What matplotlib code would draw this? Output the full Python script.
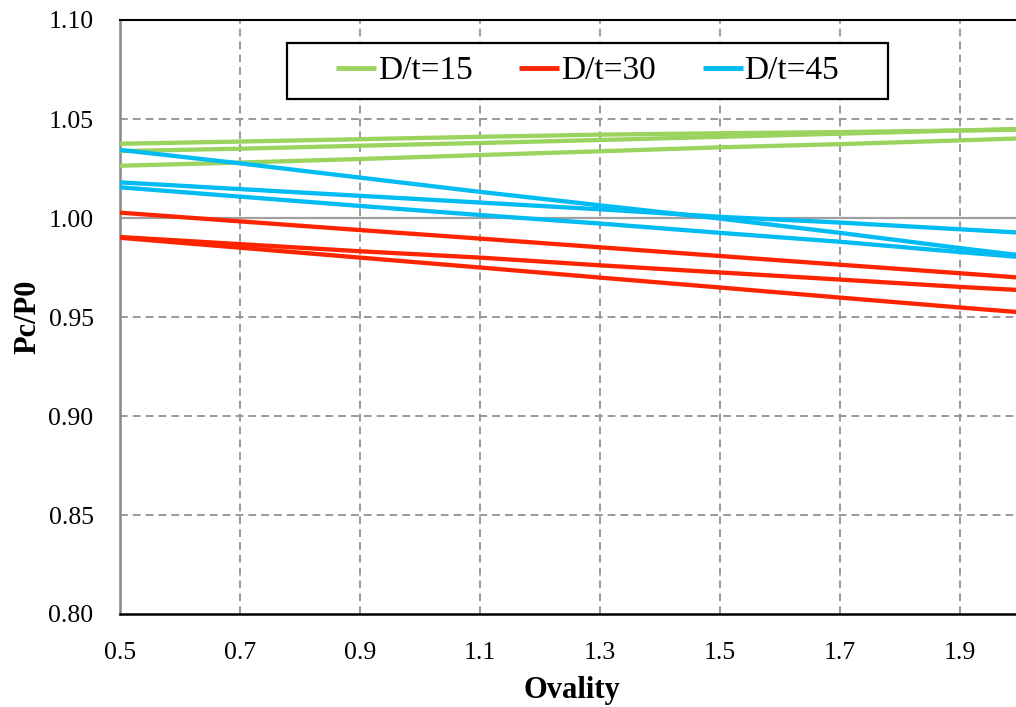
import matplotlib.pyplot as plt
from matplotlib.patches import Rectangle

# Ovality values (x) and Pc/P0 curves
ovality = [0.5, 0.7, 0.9, 1.1, 1.3, 1.5, 1.7, 1.9, 2.0]

dt15_a = [1.0375, 1.0386, 1.0398, 1.0410, 1.0421, 1.0428, 1.0434, 1.0442, 1.0446]
dt15_b = [1.0338, 1.0350, 1.0365, 1.0379, 1.0394, 1.0410, 1.0426, 1.0442, 1.0450]
dt15_c = [1.0264, 1.0280, 1.0298, 1.0318, 1.0337, 1.0357, 1.0373, 1.0392, 1.0402]

dt30_a = [1.0027, 0.9983, 0.9939, 0.9896, 0.9852, 0.9808, 0.9764, 0.9721, 0.9699]
dt30_b = [0.9904, 0.9868, 0.9832, 0.9800, 0.9761, 0.9725, 0.9689, 0.9652, 0.9636]
dt30_c = [0.9900, 0.9850, 0.9800, 0.9750, 0.9699, 0.9649, 0.9598, 0.9548, 0.9524]

dt45_a = [1.0344, 1.0276, 1.0204, 1.0132, 1.0064, 0.9997, 0.9925, 0.9848, 0.9812]
dt45_b = [1.0180, 1.0146, 1.0112, 1.0078, 1.0044, 1.0006, 0.9977, 0.9943, 0.9926]
dt45_c = [1.0155, 1.0108, 1.0061, 1.0015, 0.9972, 0.9925, 0.9880, 0.9828, 0.9803]

groups = [
    ('D/t=15', '#9BD35F', [dt15_a, dt15_b, dt15_c]),
    ('D/t=30', '#FF2400', [dt30_a, dt30_b, dt30_c]),
    ('D/t=45', '#00BCF2', [dt45_a, dt45_b, dt45_c]),
]

x_ticks = [0.5, 0.7, 0.9, 1.1, 1.3, 1.5, 1.7, 1.9]
y_ticks = [0.80, 0.85, 0.90, 0.95, 1.00, 1.05, 1.10]

SERIF = 'Liberation Serif'


def main():
    fig = plt.figure(figsize=(10.16, 7.07), dpi=100)
    ax = fig.add_axes([120 / 1016, 1 - 614 / 707, 900 / 1016, 594 / 707])

    for label, color, curves in groups:
        for i, y in enumerate(curves):
            ax.plot(ovality, y, color=color, lw=3.1, solid_capstyle='butt',
                    label=label if i == 0 else None, zorder=3)

    ax.set_xlim(0.5, 2.0)
    ax.set_ylim(0.80, 1.10)
    ax.set_xticks(x_ticks)
    ax.set_yticks(y_ticks)
    ax.set_xticklabels([f'{v:.1f}' for v in x_ticks], family=SERIF, fontsize=18.5)
    ax.set_yticklabels([f'{v:.2f}' for v in y_ticks], family=SERIF, fontsize=18.5)
    ax.tick_params(axis='x', length=0, pad=20)
    ax.tick_params(axis='y', length=0, pad=19)

    # grid: dashed gray, with a solid line at 1.00
    dash = (0, (4, 2.6))
    for xv in x_ticks[1:]:
        ax.axvline(xv, color='#999999', lw=1.4, ls=dash, zorder=1)
    for yv in y_ticks[1:-1]:
        if abs(yv - 1.0) < 1e-9:
            ax.axhline(yv, color='#A0A0A0', lw=1.6, zorder=1)
        else:
            ax.axhline(yv, color='#999999', lw=1.4, ls=dash, zorder=1)

    ax.spines['right'].set_visible(False)
    ax.spines['top'].set_color('black')
    ax.spines['top'].set_linewidth(1.5)
    ax.spines['bottom'].set_color('black')
    ax.spines['bottom'].set_linewidth(1.8)
    ax.spines['left'].set_color('#888888')
    ax.spines['left'].set_linewidth(1.8)

    ax.set_xlabel('Ovality', family=SERIF, fontweight='bold', fontsize=22, va='center')
    ax.set_ylabel('Pc/P0', family=SERIF, fontweight='bold', fontsize=22, va='center')
    ax.xaxis.set_label_coords(0.502, -0.128)
    ax.yaxis.set_label_coords(-0.102, 0.5)

    # legend box
    box = Rectangle((0.1856, 0.867), 0.668, 0.0943, transform=ax.transAxes,
                    facecolor='white', edgecolor='black', lw=1.6, zorder=4)
    ax.add_patch(box)
    leg = ax.legend(loc='center', bbox_to_anchor=(0.5196, 0.914), ncol=3,
                    frameon=False, prop={'family': SERIF, 'size': 24},
                    handlelength=1.2, handletextpad=0.05, columnspacing=1.4)
    leg.set_zorder(5)
    for line in leg.get_lines():
        line.set_linewidth(3.5)

    fig.savefig('out.png', dpi=100)


if __name__ == '__main__':
    main()
